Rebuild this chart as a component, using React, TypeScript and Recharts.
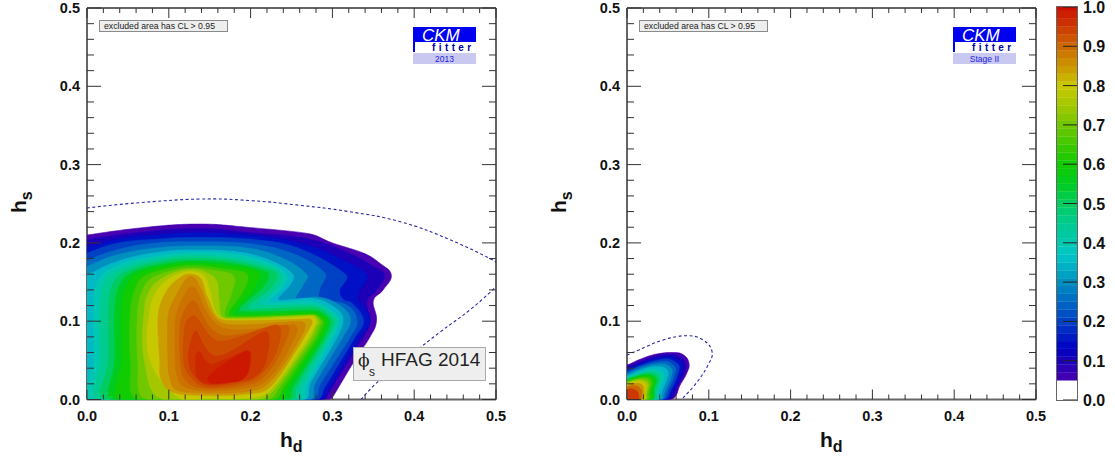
import React from 'react';
import { BarChart, Bar, ScatterChart, Scatter, XAxis, YAxis } from 'recharts';

type Pt = number[];

const xTicks = [0, 0.02, 0.04, 0.06, 0.08, 0.1, 0.12, 0.14, 0.16, 0.18, 0.2, 0.22, 0.24, 0.26, 0.28, 0.3, 0.32, 0.34, 0.36, 0.38, 0.4, 0.42, 0.44, 0.46, 0.48, 0.5];
const yTicks = xTicks;
const barTicks = [0, 0.1, 0.2, 0.3, 0.4, 0.5, 0.6, 0.7, 0.8, 0.9, 1];

// colour scale at the right
const colorStops: [number, string][] = [
  [0.05, '#4800b0'], [0.1, '#1c00b8'], [0.13, '#0000c4'], [0.15, '#0010c4'], [0.2, '#0040c4'], [0.25, '#0068c4'],
  [0.3, '#0090c0'], [0.37, '#00c8c8'], [0.4, '#00c8b0'], [0.45, '#00cc90'], [0.5, '#00cc60'], [0.55, '#00cc20'],
  [0.6, '#10cc00'], [0.65, '#40c800'], [0.7, '#70c800'], [0.75, '#a4c800'], [0.8, '#c8c800'], [0.85, '#cc9400'],
  [0.9, '#cc6a00'], [0.95, '#cc3800'], [1, '#cc1000'],
];
const barBands = [0.05, 0.07, 0.09, 0.11, 0.13, 0.15, 0.17, 0.19, 0.21, 0.23, 0.25, 0.27, 0.29, 0.31, 0.33, 0.35, 0.37, 0.39, 0.41, 0.43, 0.45, 0.47, 0.49, 0.51, 0.53, 0.55, 0.57, 0.59, 0.61, 0.63, 0.65, 0.67, 0.69, 0.71, 0.73, 0.75, 0.77, 0.79, 0.81, 0.83, 0.85, 0.87, 0.89, 0.91, 0.93, 0.95, 0.97, 0.99];

// left panel, CL contours (h_d, h_s)
const L05: Pt[] = [[0,.21],[.073,.22],[.138,.224],[.195,.22],[.27,.212],[.30,.2],[.338,.187],[.358,.174],[.372,.159],[.362,.14],[.35,.126],[.354,.101],[.346,.08],[.325,.046],[.301,.004],[.295,0],[0,0]];
const L10: Pt[] = [[0,.204],[.07,.214],[.14,.218],[.2,.213],[.27,.205],[.32,.187],[.35,.17],[.364,.159],[.354,.14],[.342,.125],[.346,.101],[.338,.08],[.318,.046],[.295,.008],[.289,0],[0,0]];
const L15: Pt[] = [[0,.195],[.036,.2045],[.081,.21],[.134,.213],[.207,.209],[.269,.197],[.313,.178],[.342,.159],[.332,.138],[.332,.127],[.346,.1015],[.334,.08],[.295,.012],[.285,0],[0,0]];
const L20: Pt[] = [[0,.187],[.036,.1995],[.081,.2045],[.134,.207],[.207,.204],[.264,.191],[.317,.159],[.309,.14],[.313,.128],[.324,.123],[.338,.1015],[.328,.08],[.291,.016],[.281,0],[0,0]];
const L25: Pt[] = [[0,.178],[.036,.191],[.081,.1995],[.134,.2015],[.203,.1985],[.256,.1845],[.291,.161],[.285,.142],[.285,.128],[.317,.121],[.330,.1015],[.322,.08],[.285,.019],[.277,0],[0,0]];
const L30: Pt[] = [[0,.170],[.036,.1845],[.081,.193],[.134,.196],[.199,.193],[.244,.178],[.269,.159],[.264,.146],[.256,.128],[.285,.1305],[.311,.1185],[.322,.1015],[.313,.08],[.279,.021],[.273,0],[0,0]];
const L35: Pt[] = [[0,.159],[.036,.176],[.081,.187],[.130,.191],[.191,.1875],[.232,.174],[.252,.159],[.248,.146],[.234,.127],[.277,.129],[.305,.116],[.313,.1015],[.305,.078],[.273,.021],[.266,0],[0,0]];
const L40: Pt[] = [[.004,0],[.008,.05],[.008,.114],[.014,.153],[.04,.172],[.081,.1825],[.13,.1875],[.187,.1845],[.228,.172],[.244,.159],[.24,.144],[.224,.124],[.277,.125],[.303,.11],[.309,.099],[.299,.076],[.269,.019],[.264,0]];
const L45: Pt[] = [[.014,0],[.016,.05],[.016,.114],[.022,.1505],[.044,.1675],[.085,.179],[.13,.184],[.183,.18],[.224,.17],[.238,.159],[.232,.142],[.211,.121],[.277,.121],[.299,.11],[.305,.099],[.295,.076],[.262,.016],[.258,0]];
const L50: Pt[] = [[.022,0],[.026,.05],[.026,.114],[.032,.148],[.051,.165],[.089,.176],[.13,.18],[.179,.177],[.218,.1675],[.232,.159],[.224,.142],[.197,.116],[.277,.118],[.295,.108],[.301,.098],[.291,.075],[.256,.016],[.252,0]];
const L55: Pt[] = [[.032,0],[.034,.05],[.034,.114],[.04,.146],[.057,.163],[.093,.173],[.13,.177],[.175,.174],[.211,.166],[.222,.159],[.214,.142],[.187,.113],[.277,.114],[.293,.106],[.297,.097],[.287,.074],[.252,.016],[.246,0]];
const L60: Pt[] = [[.04,0],[.042,.05],[.042,.114],[.048,.144],[.063,.161],[.097,.1705],[.13,.174],[.171,.171],[.203,.165],[.211,.159],[.203,.14],[.181,.109],[.275,.111],[.291,.104],[.293,.096],[.283,.074],[.246,.016],[.238,0]];
const L65: Pt[] = [[.063,0],[.053,.05],[.053,.114],[.059,.142],[.071,.158],[.101,.1675],[.13,.171],[.163,.1675],[.191,.163],[.197,.155],[.191,.138],[.175,.107],[.276,.109],[.288,.1015],[.289,.096],[.279,.074],[.241,.016],[.228,0]];
const L70: Pt[] = [[.073,0],[.062,.05],[.062,.114],[.068,.14],[.079,.155],[.106,.165],[.13,.168],[.154,.165],[.175,.161],[.181,.153],[.177,.136],[.171,.105],[.277,.108],[.286,.101],[.285,.095],[.275,.074],[.236,.016],[.22,0]];
const L75: Pt[] = [[.093,0],[.07,.05],[.07,.114],[.076,.138],[.089,.153],[.11,.163],[.13,.166],[.148,.161],[.159,.1505],[.161,.131],[.169,.104],[.276,.1075],[.283,.099],[.28,.093],[.271,.074],[.23,.014],[.207,0]];
const L80: Pt[] = [[.114,.001],[.077,.05],[.077,.114],[.084,.136],[.097,.152],[.114,.161],[.13,.163],[.144,.157],[.15,.14],[.167,.103],[.275,.106],[.28,.098],[.268,.074],[.224,.012],[.195,.0015],[.146,.001]];
const L84: Pt[] = [[.089,.05],[.087,.106],[.097,.138],[.116,.157],[.128,.16],[.14,.153],[.148,.129],[.167,.1015],[.272,.103],[.275,.097],[.256,.063],[.224,.016],[.195,.007],[.146,.005],[.106,.009],[.091,.025]];
const L87: Pt[] = [[.099,.05],[.099,.106],[.108,.131],[.122,.155],[.132,.155],[.14,.14],[.167,.097],[.264,.099],[.252,.063],[.222,.021],[.195,.01],[.146,.008],[.11,.012],[.101,.029]];
const L89: Pt[] = [[.108,.05],[.108,.1015],[.116,.127],[.126,.143],[.134,.14],[.167,.091],[.254,.095],[.246,.063],[.22,.025],[.191,.014],[.146,.011],[.118,.017],[.11,.031]];
const L91: Pt[] = [[.114,.05],[.114,.097],[.122,.1185],[.129,.126],[.135,.121],[.165,.082],[.244,.095],[.238,.063],[.216,.029],[.191,.018],[.148,.014],[.122,.023]];
const L93: Pt[] = [[.118,.05],[.12,.095],[.13,.107],[.138,.099],[.163,.074],[.232,.095],[.232,.063],[.211,.031],[.187,.021],[.148,.016],[.128,.027]];
const L95: Pt[] = [[.124,.05],[.128,.078],[.134,.087],[.159,.055],[.218,.087],[.22,.055],[.207,.031],[.183,.023],[.148,.019],[.132,.029]];
const L97: Pt[] = [[.133,.038],[.133,.057],[.138,.061],[.152,.045],[.197,.063],[.199,.042],[.191,.027],[.171,.021],[.148,.020],[.136,.027]];
const L98: Pt[] = [[.148,.028],[.167,.045],[.196,.0615],[.198,.042],[.19,.026],[.171,.022],[.152,.021]];

const leftContours: [number, Pt[]][] = [
  [0.05, L05], [0.1, L10], [0.15, L15], [0.2, L20], [0.25, L25], [0.3, L30], [0.35, L35], [0.4, L40], [0.45, L45], [0.5, L50], [0.55, L55], [0.6, L60],
  [0.65, L65], [0.7, L70], [0.75, L75], [0.8, L80], [0.84, L84], [0.87, L87], [0.89, L89], [0.91, L91], [0.93, L93], [0.95, L95], [0.97, L97], [0.99, L98],
];

const leftDashUpper: Pt[] = [[0,.2446],[.06,.251],[.138,.256],[.2,.254],[.26,.248],[.32,.24],[.383,.227],[.444,.204],[.5,.176]];
const leftDashLower: Pt[] = [[.335,0],[.358,.025],[.395,.056],[.4315,.086],[.47,.116],[.5,.144]];

// right panel (Stage II)
const R05: Pt[] = [[0,.044],[.016,.0513],[.036,.058],[.0566,.06],[.069,.057],[.0758,.0462],[.073,.0334],[.065,.0185],[.0546,0],[0,0]];
const R10: Pt[] = [[0,.042],[.016,.0483],[.036,.0556],[.0546,.0577],[.0656,.054],[.072,.045],[.069,.0313],[.0615,.0164],[.052,0],[0,0]];
const R15: Pt[] = [[0,.0394],[.016,.0458],[.036,.0526],[.0526,.0547],[.0628,.0504],[.068,.0432],[.065,.0292],[.058,.0143],[.049,0],[0,0]];
const R20: Pt[] = [[0,.0368],[.016,.0432],[.034,.0496],[.0505,.0517],[.0595,.0475],[.064,.0411],[.0607,.0279],[.054,.013],[.046,0],[0,0]];
const R25: Pt[] = [[0,.0343],[.014,.0411],[.032,.0466],[.0484,.0483],[.056,.0445],[.0595,.039],[.0566,.0266],[.05,.0117],[.044,0],[0,0]];
const R30: Pt[] = [[0,.0326],[.012,.0377],[.03,.044],[.0444,.0453],[.052,.042],[.0554,.0368],[.0526,.0249],[.0466,.0109],[.042,0],[0,0]];
const R35: Pt[] = [[0,.0304],[.012,.0355],[.028,.0411],[.04,.042],[.0477,.039],[.0505,.0334],[.0477,.0228],[.0425,.01],[.04,0],[0,0]];
const R40: Pt[] = [[0,.0287],[.012,.0334],[.026,.0381],[.036,.0385],[.0432,.0355],[.0456,.03],[.043,.0206],[.0385,.0092],[.038,0],[0,0]];
const R45: Pt[] = [[0,.0276],[.012,.0317],[.025,.0357],[.034,.0355],[.040,.0323],[.0418,.0275],[.0392,.019],[.0362,.0085],[.0355,0],[0,0]];
const R50: Pt[] = [[0,.0265],[.012,.0305],[.024,.0338],[.033,.033],[.038,.0294],[.039,.025],[.0365,.0172],[.0338,.0079],[.033,0],[0,0]];
const R55: Pt[] = [[0,.0252],[.011,.029],[.022,.0318],[.031,.031],[.0355,.0272],[.036,.022],[.033,.015],[.031,0],[0,0]];
const R60: Pt[] = [[0,.024],[.01,.0275],[.02,.0298],[.029,.029],[.033,.0252],[.033,.0198],[.0305,.013],[.029,0],[0,0]];
const R65: Pt[] = [[0,.023],[.009,.0262],[.019,.0285],[.027,.0275],[.0305,.0235],[.0305,.018],[.028,.0105],[.027,0],[0,0]];
const R70: Pt[] = [[0,.022],[.008,.025],[.0175,.0268],[.025,.0255],[.028,.021],[.0275,.015],[.0255,.0075],[.025,0],[0,0]];
const R75: Pt[] = [[0,.021],[.008,.0238],[.0165,.025],[.023,.0235],[.026,.0195],[.025,.0125],[.0235,.0065],[.023,0],[0,0]];
const R80: Pt[] = [[0,.0195],[.008,.0225],[.016,.0235],[.0215,.021],[.0235,.016],[.022,.0085],[.021,0],[0,0]];
const R85: Pt[] = [[0,.018],[.008,.0205],[.015,.0205],[.0195,.0175],[.0205,.0115],[.019,0],[0,0]];
const R90: Pt[] = [[0,.016],[.008,.0175],[.014,.016],[.018,.011],[.0175,.005],[.0165,0],[0,0]];
const R95: Pt[] = [[0,.0125],[.006,.0135],[.012,.011],[.014,.006],[.0135,0],[0,0]];

const rightContours: [number, Pt[]][] = [
  [0.05, R05], [0.1, R10], [0.15, R15], [0.2, R20], [0.25, R25], [0.3, R30], [0.35, R35], [0.4, R40], [0.45, R45], [0.5, R50],
  [0.55, R55], [0.6, R60], [0.65, R65], [0.7, R70], [0.75, R75], [0.8, R80], [0.85, R85], [0.9, R90], [0.95, R95],
];
const rightDash: Pt[] = [[0,.0568],[.016,.064],[.044,.076],[.073,.0815],[.093,.076],[.104,.061],[.099,.044],[.086,.0227],[.0685,.002]];

// opposite corners of the frame, keeps the top and right axes attached
const frameCorners: Pt[] = [[0, 0], [0.5, 0.5]];

const FONT = '"Liberation Sans", Arial, sans-serif';

const hexToRgb = (h: string) => [1, 3, 5].map(i => parseInt(h.slice(i, i + 2), 16));

const colorFor = (v: number) => {
  let i = 0;
  while (i < colorStops.length - 2 && v > colorStops[i + 1][0]) i++;
  const [a, ca] = colorStops[i];
  const [b, cb] = colorStops[i + 1];
  const t = Math.max(0, Math.min(1, (v - a) / (b - a)));
  const A = hexToRgb(ca);
  const B = hexToRgb(cb);
  return `rgb(${A.map((c, k) => Math.round(c + (B[k] - c) * t)).join(',')})`;
};

// smooth path through the scaled points, sharp corners keep a shorter tangent
const smoothPath = (pts: { x: number; y: number }[], closed: boolean) => {
  const n = pts.length;
  const at = (i: number) => (closed ? pts[(i + n) % n] : pts[Math.max(0, Math.min(n - 1, i))]);
  const tangent = (i: number) => {
    const p = at(i - 1);
    const c = at(i);
    const q = at(i + 1);
    const ax = c.x - p.x, ay = c.y - p.y, bx = q.x - c.x, by = q.y - c.y;
    const la = Math.hypot(ax, ay) || 1, lb = Math.hypot(bx, by) || 1;
    const cos = (ax * bx + ay * by) / (la * lb);
    const k = Math.sqrt(Math.max(0, (1 + cos) / 2));
    const len = Math.hypot(q.x - p.x, q.y - p.y) || 1;
    const h = Math.min(la, lb) * 0.45 * k;
    return { x: ((q.x - p.x) / len) * h, y: ((q.y - p.y) / len) * h };
  };
  let d = `M${pts[0].x},${pts[0].y}`;
  const last = closed ? n : n - 1;
  for (let i = 0; i < last; i++) {
    const a = at(i), b = at(i + 1), ta = tangent(i), tb = tangent(i + 1);
    d += `C${a.x + ta.x},${a.y + ta.y} ${b.x - tb.x},${b.y - tb.y} ${b.x},${b.y}`;
  }
  return closed ? d + 'Z' : d;
};

// outlines that end on the axes get a corner outside the frame so they run straight into it (the frame clips them)
const outlineRows = (pts: Pt[]) => {
  const rows = pts.map(([x, y]) => ({ x, y }));
  const first = rows[0];
  const last = rows[rows.length - 1];
  if (first.x === 0 && last.x === 0 && last.y === 0) {
    rows.pop();
    return [{ x: -0.02, y: first.y - 0.005 }, ...rows, { x: last.x - 0.02, y: -0.02 }];
  }
  return rows;
};
const toRows = (pts: Pt[]) => pts.map(([x, y]) => ({ x, y }));
const noDot = () => null;

const isMajor = (v: number) => Math.round(v * 100) % 10 === 0;

const BottomTick = ({ x, y, payload }: any) => {
  const major = isMajor(payload.value);
  return (
    <g>
      <line x1={x} x2={x} y1={y} y2={y - (major ? 10 : 5)} stroke="#333" strokeWidth={1} />
      {major && (
        <text x={x} y={y + 21} textAnchor="middle" fontFamily={FONT} fontWeight="bold" fontSize={14.5} fill="#111">
          {payload.value.toFixed(1)}
        </text>
      )}
    </g>
  );
};

const TopTick = ({ x, y, payload }: any) => (
  <line x1={x} x2={x} y1={y} y2={y + (isMajor(payload.value) ? 10 : 5)} stroke="#333" strokeWidth={1} />
);

const LeftTick = ({ x, y, payload }: any) => {
  const major = isMajor(payload.value);
  return (
    <g>
      <line x1={x} x2={x + (major ? 14 : 7)} y1={y} y2={y} stroke="#333" strokeWidth={1} />
      {major && (
        <text x={x - 7} y={y + 5} textAnchor="end" fontFamily={FONT} fontWeight="bold" fontSize={14.5} fill="#111">
          {payload.value.toFixed(1)}
        </text>
      )}
    </g>
  );
};

const RightTick = ({ x, y, payload }: any) => (
  <line x1={x} x2={x - (isMajor(payload.value) ? 14 : 7)} y1={y} y2={y} stroke="#333" strokeWidth={1} />
);

const BarTick = ({ x, y, payload }: any) => (
  <g>
    <line x1={x} x2={x - 14} y1={y} y2={y} stroke="#222" strokeWidth={1} />
    <text x={x + 6} y={y + 6} fontFamily={FONT} fontWeight="bold" fontSize={16} fill="#111">
      {payload.value.toFixed(1)}
    </text>
  </g>
);

const Overlay = ({ tag, box }: { tag: string; box: boolean }) => (
  <svg width={540} height={459} style={{ position: 'absolute', left: 0, top: 0, pointerEvents: 'none' }}>
    <rect x={99.5} y={20.5} width={128} height={11} fill="#eeeeee" stroke="#8a8a8a" strokeWidth={1} />
    <text x={104} y={29} fontFamily={FONT} fontSize={8.7} fill="#222">excluded area has CL &gt; 0.95</text>

    <rect x={413} y={27} width={63} height={25} fill="#0000f0" />
    <rect x={415} y={42} width={61} height={10} fill="#fff" />
    <rect x={413} y={53} width={63} height={11} fill="#c8c8f0" />
    <text x={422} y={41} fontFamily={FONT} fontStyle="italic" fontSize={17} fill="#fff">CKM</text>
    <text x={432} y={51} fontFamily={FONT} fontWeight="bold" fontSize={10} letterSpacing={3.4} fill="#0000a8">fitter</text>
    <text x={444.5} y={62} textAnchor="middle" fontFamily={FONT} fontSize={8.5} fill="#2222dd">{tag}</text>

    {box && (
      <g>
        <rect x={353.5} y={347.5} width={132} height={33} fill="#eeeeee" stroke="#aaaaaa" strokeWidth={1} />
        <text x={358} y={366} fontFamily={'"DejaVu Serif", serif'} fontSize={17} fill="#222">ϕ</text>
        <text x={369} y={375.5} fontFamily={FONT} fontSize={12} fill="#222">s</text>
        <text x={381} y={366} fontFamily={FONT} fontSize={19} fill="#222">HFAG 2014</text>
      </g>
    )}

    <text x={280} y={447} fontFamily={FONT} fontWeight="bold" fontSize={21} fill="#111">
      h<tspan dy={5} fontSize={16}>d</tspan>
    </text>
    <text transform="translate(26,213) rotate(-90)" fontFamily={FONT} fontWeight="bold" fontSize={21} fill="#111">
      h<tspan dy={6} fontSize={16}>s</tspan>
    </text>
  </svg>
);

const Panel = ({ left, contours, dashes, tag, box }: { left: number; contours: [number, Pt[]][]; dashes: Pt[][]; tag: string; box: boolean }) => (
  <div style={{ position: 'absolute', left, top: 0, width: 540, height: 459 }}>
    <ScatterChart width={540} height={459} margin={{ top: 7, right: 43, bottom: 58.5, left: 86 }}>
      {contours.map(([level, pts]) => (
        <Scatter
          key={level}
          data={outlineRows(pts)}
          isAnimationActive={false}
          shape={noDot}
          line={(p: any) => <path key="c" d={smoothPath(p.points, true)} fill={colorFor(level)} stroke={colorFor(level)} strokeWidth={0.6} />}
        />
      ))}
      {dashes.map((pts, i) => (
        <Scatter
          key={`dash${i}`}
          data={toRows(pts)}
          isAnimationActive={false}
          shape={noDot}
          line={(p: any) => <path key="d" d={smoothPath(p.points, false)} fill="none" stroke="#2626a6" strokeWidth={1.1} strokeDasharray="3 2.5" />}
        />
      ))}
      <Scatter data={toRows(frameCorners)} xAxisId="top" yAxisId="right" isAnimationActive={false} shape={noDot} />
      <XAxis type="number" dataKey="x" orientation="bottom" domain={[0, 0.5]} allowDataOverflow ticks={xTicks} interval={0} height={1} tickSize={0} tickMargin={0} tickLine={false} tick={BottomTick} axisLine={{ stroke: '#666', strokeWidth: 2 }} />
      <XAxis xAxisId="top" dataKey="x" orientation="top" type="number" domain={[0, 0.5]} ticks={xTicks} interval={0} height={1} tickSize={0} tickMargin={0} tickLine={false} tick={TopTick} axisLine={{ stroke: '#333', strokeWidth: 1.5 }} />
      <YAxis type="number" dataKey="y" orientation="left" domain={[0, 0.5]} allowDataOverflow ticks={yTicks} interval={0} width={1} tickSize={0} tickMargin={0} tickLine={false} tick={LeftTick} axisLine={{ stroke: '#666', strokeWidth: 2 }} />
      <YAxis yAxisId="right" dataKey="y" orientation="right" type="number" domain={[0, 0.5]} ticks={yTicks} interval={0} width={1} tickSize={0} tickMargin={0} tickLine={false} tick={RightTick} axisLine={{ stroke: '#333', strokeWidth: 1.5 }} />
    </ScatterChart>
    <Overlay tag={tag} box={box} />
  </div>
);

// stacked slices of the colour bar: white up to the first level, then one band per level
const barRow: Record<string, number | string> = { name: 'CL', white: barBands[0] };
barBands.forEach((b, i) => {
  barRow[`b${i}`] = (barBands[i + 1] ?? 1) - b;
});

const ColorBar = () => (
  <div style={{ position: 'absolute', left: 1040, top: 0, width: 75, height: 459 }}>
    <BarChart width={75} height={459} data={[barRow]} margin={{ top: 7, right: 37, bottom: 59, left: 17 }} barCategoryGap={0}>
      <XAxis dataKey="name" hide />
      <Bar dataKey="white" stackId="cb" fill="#fff" isAnimationActive={false} />
      {barBands.map((b, i) => (
        <Bar key={b} dataKey={`b${i}`} stackId="cb" fill={colorFor(b + 0.01)} stroke={colorFor(b + 0.01)} strokeWidth={0.3} isAnimationActive={false} />
      ))}
      <YAxis orientation="right" type="number" domain={[0, 1]} ticks={barTicks} interval={0} width={1} tickSize={0} tickMargin={0} tickLine={false} tick={BarTick} axisLine={false} />
    </BarChart>
    <div style={{ position: 'absolute', left: 16, top: 6, width: 20, height: 393, border: '1px solid #666' }} />
  </div>
);

export default function App() {
  return (
    <div style={{ position: 'absolute', left: 0, top: 0, width: 1115, height: 459, background: '#fff', overflow: 'hidden' }}>
      <Panel left={0} contours={leftContours} dashes={[leftDashUpper, leftDashLower]} tag="2013" box />
      <Panel left={540} contours={rightContours} dashes={[rightDash]} tag="Stage II" box={false} />
      <ColorBar />
    </div>
  );
}
